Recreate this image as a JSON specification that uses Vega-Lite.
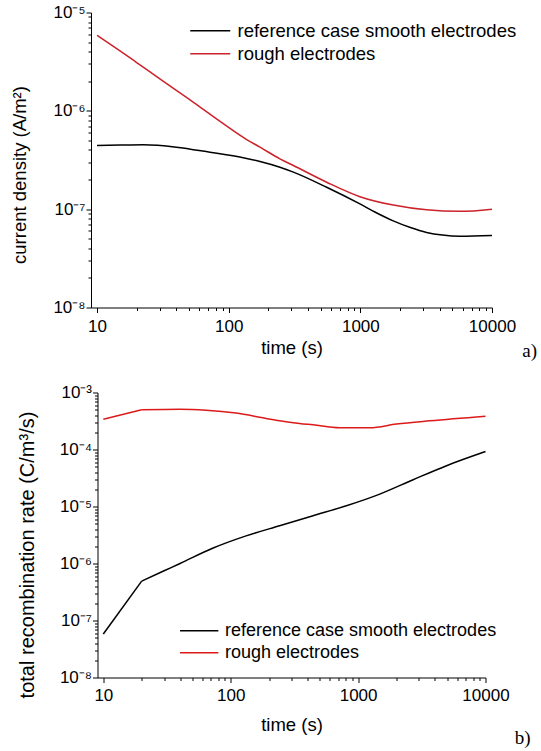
{
  "$schema": "https://vega.github.io/schema/vega-lite/v6.json",
  "padding": {"left": 10, "top": 3.5, "right": 0, "bottom": 0},
  "datasets": {
    "a": [
      {"series": "reference case smooth electrodes", "t": 10, "v": 4.43e-7},
      {"series": "reference case smooth electrodes", "t": 15, "v": 4.48e-7},
      {"series": "reference case smooth electrodes", "t": 22.5, "v": 4.51e-7},
      {"series": "reference case smooth electrodes", "t": 40, "v": 4.27e-7},
      {"series": "reference case smooth electrodes", "t": 72, "v": 3.79e-7},
      {"series": "reference case smooth electrodes", "t": 129, "v": 3.33e-7},
      {"series": "reference case smooth electrodes", "t": 173, "v": 3.05e-7},
      {"series": "reference case smooth electrodes", "t": 245, "v": 2.67e-7},
      {"series": "reference case smooth electrodes", "t": 310, "v": 2.38e-7},
      {"series": "reference case smooth electrodes", "t": 555, "v": 1.67e-7},
      {"series": "reference case smooth electrodes", "t": 993, "v": 1.13e-7},
      {"series": "reference case smooth electrodes", "t": 1300, "v": 9.3e-8},
      {"series": "reference case smooth electrodes", "t": 1778, "v": 7.6e-8},
      {"series": "reference case smooth electrodes", "t": 2400, "v": 6.5e-8},
      {"series": "reference case smooth electrodes", "t": 3184, "v": 5.8e-8},
      {"series": "reference case smooth electrodes", "t": 4200, "v": 5.45e-8},
      {"series": "reference case smooth electrodes", "t": 5700, "v": 5.3e-8},
      {"series": "reference case smooth electrodes", "t": 10000, "v": 5.4e-8},
      {"series": "rough electrodes", "t": 10, "v": 5.85e-6},
      {"series": "rough electrodes", "t": 20, "v": 3.1e-6},
      {"series": "rough electrodes", "t": 30, "v": 2.11e-6},
      {"series": "rough electrodes", "t": 54, "v": 1.22e-6},
      {"series": "rough electrodes", "t": 86, "v": 7.8e-7},
      {"series": "rough electrodes", "t": 137, "v": 5.1e-7},
      {"series": "rough electrodes", "t": 173, "v": 4.27e-7},
      {"series": "rough electrodes", "t": 245, "v": 3.25e-7},
      {"series": "rough electrodes", "t": 310, "v": 2.78e-7},
      {"series": "rough electrodes", "t": 555, "v": 1.88e-7},
      {"series": "rough electrodes", "t": 993, "v": 1.34e-7},
      {"series": "rough electrodes", "t": 1778, "v": 1.1e-7},
      {"series": "rough electrodes", "t": 3184, "v": 9.84e-8},
      {"series": "rough electrodes", "t": 5700, "v": 9.5e-8},
      {"series": "rough electrodes", "t": 10000, "v": 1.0e-7}
    ],
    "b": [
      {"series": "reference case smooth electrodes", "seg": "early", "t": 10, "v": 5.8e-8},
      {"series": "reference case smooth electrodes", "seg": "early", "t": 20, "v": 4.9e-7},
      {"series": "reference case smooth electrodes", "seg": "late", "t": 20, "v": 4.9e-7},
      {"series": "reference case smooth electrodes", "seg": "late", "t": 30, "v": 7.45e-7},
      {"series": "reference case smooth electrodes", "seg": "late", "t": 40, "v": 1.0e-6},
      {"series": "reference case smooth electrodes", "seg": "late", "t": 72, "v": 1.85e-6},
      {"series": "reference case smooth electrodes", "seg": "late", "t": 132, "v": 3.05e-6},
      {"series": "reference case smooth electrodes", "seg": "late", "t": 242, "v": 4.6e-6},
      {"series": "reference case smooth electrodes", "seg": "late", "t": 443, "v": 6.9e-6},
      {"series": "reference case smooth electrodes", "seg": "late", "t": 809, "v": 1.03e-5},
      {"series": "reference case smooth electrodes", "seg": "late", "t": 1479, "v": 1.65e-5},
      {"series": "reference case smooth electrodes", "seg": "late", "t": 2704, "v": 2.95e-5},
      {"series": "reference case smooth electrodes", "seg": "late", "t": 4946, "v": 5.2e-5},
      {"series": "reference case smooth electrodes", "seg": "late", "t": 10000, "v": 9.2e-5},
      {"series": "rough electrodes", "seg": "early", "t": 10, "v": 3.4e-4},
      {"series": "rough electrodes", "seg": "early", "t": 20, "v": 4.97e-4},
      {"series": "rough electrodes", "seg": "late", "t": 20, "v": 4.97e-4},
      {"series": "rough electrodes", "seg": "late", "t": 40, "v": 5.1e-4},
      {"series": "rough electrodes", "seg": "late", "t": 64, "v": 4.9e-4},
      {"series": "rough electrodes", "seg": "late", "t": 110, "v": 4.35e-4},
      {"series": "rough electrodes", "seg": "late", "t": 190, "v": 3.5e-4},
      {"series": "rough electrodes", "seg": "late", "t": 242, "v": 3.2e-4},
      {"series": "rough electrodes", "seg": "late", "t": 347, "v": 2.87e-4},
      {"series": "rough electrodes", "seg": "late", "t": 443, "v": 2.71e-4},
      {"series": "rough electrodes", "seg": "late", "t": 716, "v": 2.4e-4},
      {"series": "rough electrodes", "seg": "late", "t": 1233, "v": 2.4e-4},
      {"series": "rough electrodes", "seg": "late", "t": 2000, "v": 2.79e-4},
      {"series": "rough electrodes", "seg": "late", "t": 3654, "v": 3.19e-4},
      {"series": "rough electrodes", "seg": "late", "t": 10000, "v": 3.85e-4}
    ]
  },
  "vconcat": [
    {
      "width": 401,
      "height": 295,
      "data": {"name": "a"},
      "title": {"text": "a)", "orient": "bottom", "anchor": "end", "frame": "group", "font": "Liberation Serif", "fontSize": 19, "fontWeight": "normal", "color": "#000000", "dx": 45, "dy": -15, "offset": 0},
      "mark": {"type": "line", "interpolate": "monotone", "strokeWidth": 1.5},
      "encoding": {
        "x": {"field": "t", "type": "quantitative",
          "scale": {"type": "log", "domain": [9, 10000], "nice": false},
          "axis": {"values": [10, 20, 30, 40, 50, 60, 70, 80, 90, 100, 200, 300, 400, 500, 600, 700, 800, 900, 1000, 2000, 3000, 4000, 5000, 6000, 7000, 8000, 9000, 10000],
            "labelExpr": "indexof([10, 100, 1000, 10000], datum.value) >= 0 ? format(datum.value, 'd') : ''",
            "tickSize": {"condition": {"test": "indexof([10, 100, 1000, 10000], datum.value) >= 0", "value": 5}, "value": 3},
            "title": "time (s)", "labelPadding": 6, "titlePadding": 4, "labelFlush": false, "titleFontSize": 18.5}},
        "y": {"field": "v", "type": "quantitative",
          "scale": {"type": "log", "domain": [1e-8, 1e-5], "nice": false},
          "axis": {"values": [1e-8, 2e-8, 3e-8, 4e-8, 5e-8, 6e-8, 7e-8, 8e-8, 9e-8, 1e-7, 2e-7, 3e-7, 4e-7, 5e-7, 6e-7, 7e-7, 8e-7, 9e-7, 1e-6, 2e-6, 3e-6, 4e-6, 5e-6, 6e-6, 7e-6, 8e-6, 9e-6, 1e-5],
            "labelExpr": "abs(log(datum.value)/LN10 - round(log(datum.value)/LN10)) > 0.001 ? '' : round(log(datum.value)/LN10) == -8 ? '10⁻⁸' : round(log(datum.value)/LN10) == -7 ? '10⁻⁷' : round(log(datum.value)/LN10) == -6 ? '10⁻⁶' : '10⁻⁵'",
            "tickSize": {"condition": {"test": "abs(log(datum.value)/LN10 - round(log(datum.value)/LN10)) < 0.001", "value": 5}, "value": 3},
            "title": "current density (A/m²)", "titleX": -62, "titleY": 162, "titleFontSize": 18.5, "labelPadding": 1, "labelFlush": false}},
        "color": {"field": "series", "type": "nominal",
          "scale": {"domain": ["reference case smooth electrodes", "rough electrodes"], "range": ["#000000", "#cc2229"]},
          "legend": {"title": null, "orient": "none", "legendX": 110, "legendY": 9, "symbolType": "M-2.5,0H2.5", "symbolSize": 256, "symbolStrokeWidth": 1.5, "labelFontSize": 18.5, "labelFont": "Liberation Sans", "labelColor": "#000000", "labelOffset": 18, "rowPadding": 4, "padding": 0, "labelLimit": 400}}
      }
    },
    {
      "width": 388,
      "height": 285,
      "data": {"name": "b"},
      "title": {"text": "b)", "orient": "bottom", "anchor": "end", "frame": "group", "font": "Liberation Serif", "fontSize": 19, "fontWeight": "normal", "color": "#000000", "dx": 45, "dy": -5, "offset": 0},
      "encoding": {
        "x": {"field": "t", "type": "quantitative",
          "scale": {"type": "log", "domain": [9, 10000], "nice": false},
          "axis": {"values": [10, 20, 30, 40, 50, 60, 70, 80, 90, 100, 200, 300, 400, 500, 600, 700, 800, 900, 1000, 2000, 3000, 4000, 5000, 6000, 7000, 8000, 9000, 10000],
            "labelExpr": "indexof([10, 100, 1000, 10000], datum.value) >= 0 ? format(datum.value, 'd') : ''",
            "tickSize": {"condition": {"test": "indexof([10, 100, 1000, 10000], datum.value) >= 0", "value": 5}, "value": 3},
            "title": "time (s)", "labelPadding": 5, "titlePadding": 12, "labelFlush": false, "titleFontSize": 18.5}},
        "y": {"field": "v", "type": "quantitative",
          "scale": {"type": "log", "domain": [1e-8, 1e-3], "nice": false},
          "axis": {"values": [1e-8, 2e-8, 3e-8, 4e-8, 5e-8, 6e-8, 7e-8, 8e-8, 9e-8, 1e-7, 2e-7, 3e-7, 4e-7, 5e-7, 6e-7, 7e-7, 8e-7, 9e-7, 1e-6, 2e-6, 3e-6, 4e-6, 5e-6, 6e-6, 7e-6, 8e-6, 9e-6, 1e-5, 2e-5, 3e-5, 4e-5, 5e-5, 6e-5, 7e-5, 8e-5, 9e-5, 1e-4, 2e-4, 3e-4, 4e-4, 5e-4, 6e-4, 7e-4, 8e-4, 9e-4, 1e-3],
            "labelExpr": "abs(log(datum.value)/LN10 - round(log(datum.value)/LN10)) > 0.001 ? '' : round(log(datum.value)/LN10) == -8 ? '10⁻⁸' : round(log(datum.value)/LN10) == -7 ? '10⁻⁷' : round(log(datum.value)/LN10) == -6 ? '10⁻⁶' : round(log(datum.value)/LN10) == -5 ? '10⁻⁵' : round(log(datum.value)/LN10) == -4 ? '10⁻⁴' : '10⁻³'",
            "tickSize": {"condition": {"test": "abs(log(datum.value)/LN10 - round(log(datum.value)/LN10)) < 0.001", "value": 5}, "value": 3},
            "title": "total recombination rate (C/m³/s)", "titleX": -60.5, "titleY": 162, "titleFontSize": 20, "labelPadding": 1, "labelFlush": false}},
        "color": {"field": "series", "type": "nominal",
          "scale": {"domain": ["reference case smooth electrodes", "rough electrodes"], "range": ["#000000", "#dd1a1a"]},
          "legend": {"title": null, "orient": "none", "legendX": 92.7, "legendY": 229.3, "symbolType": "M-2.5,0H2.5", "symbolSize": 235, "symbolStrokeWidth": 1.5, "labelFontSize": 18, "labelFont": "Liberation Sans", "labelColor": "#000000", "labelOffset": 16.8, "rowPadding": 4, "padding": 0, "labelLimit": 400}}
      },
      "layer": [
        {
          "transform": [{"filter": "datum.seg == 'early'"}],
          "mark": {"type": "line", "interpolate": "linear", "strokeWidth": 1.5}
        },
        {
          "transform": [{"filter": "datum.seg == 'late'"}],
          "mark": {"type": "line", "interpolate": "monotone", "strokeWidth": 1.5}
        }
      ]
    }
  ],
  "spacing": 85,
  "bounds": "flush",
  "center": true,
  "resolve": {"scale": {"color": "independent"}},
  "config": {
    "view": {"stroke": null},
    "axis": {"labelFont": "Liberation Sans", "titleFont": "Liberation Sans", "labelFontSize": 17, "titleFontWeight": "normal", "labelColor": "#000000", "titleColor": "#000000", "domainColor": "#000000", "tickColor": "#000000", "domainWidth": 1, "tickWidth": 1, "grid": false}
  }
}
